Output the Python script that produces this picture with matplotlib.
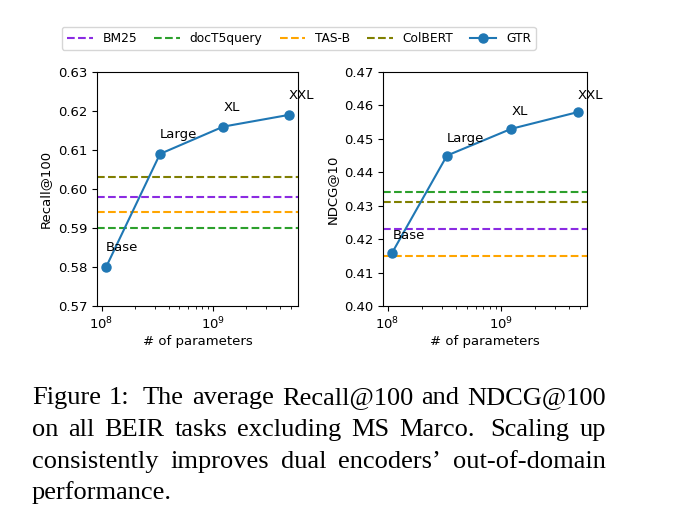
import numpy as np
import matplotlib
matplotlib.use("Agg")
import matplotlib.pyplot as plt

# model sizes (# of parameters) and names
sizes = [110e6, 335e6, 1.24e9, 4.8e9]
names = ["Base", "Large", "XL", "XXL"]

# GTR scores
gtr_recall = [0.580, 0.609, 0.616, 0.619]
gtr_ndcg = [0.416, 0.445, 0.453, 0.458]

# baselines
baselines = ["BM25", "docT5query", "TAS-B", "ColBERT"]
base_recall = [0.598, 0.590, 0.594, 0.603]
base_ndcg = [0.423, 0.434, 0.415, 0.431]
base_colors = ["#8a2be2", "tab:green", "orange", "olive"]

recall_ticks = [0.57, 0.58, 0.59, 0.60, 0.61, 0.62, 0.63]
ndcg_ticks = [0.40, 0.41, 0.42, 0.43, 0.44, 0.45, 0.46, 0.47]

caption = [
    "Figure 1:  The average Recall@100 and NDCG@100",
    "on all BEIR tasks excluding MS Marco.  Scaling up",
    "consistently improves dual encoders\u2019 out-of-domain",
    "performance.",
]

fs = 9.5
fig = plt.figure(figsize=(6.82, 5.23), dpi=100)
W, H = 682, 523
ax1 = fig.add_axes([97 / W, 1 - 306 / H, 201 / W, 234 / H])
ax2 = fig.add_axes([383 / W, 1 - 306 / H, 204 / W, 234 / H])


def panel(ax, gtr, base, ticks, ylabel):
    for name, val, col in zip(baselines, base, base_colors):
        ax.axhline(val, color=col, linestyle="--", linewidth=1.5, label=name)
    ax.plot(sizes, gtr, marker="o", color="tab:blue", linewidth=1.5,
            markersize=6.5, label="GTR")
    for x, y, n in zip(sizes, gtr, names):
        ax.text(x, y + 0.004, n, fontsize=fs, ha="left", va="baseline")
    ax.set_xscale("log")
    ax.set_ylim(ticks[0], ticks[-1])
    ax.set_yticks(ticks)
    ax.set_yticklabels(["%.2f" % t for t in ticks])
    ax.tick_params(labelsize=fs)
    ax.set_xlabel("# of parameters", fontsize=fs, labelpad=2)
    ax.set_ylabel(ylabel, fontsize=fs)


panel(ax1, gtr_recall, base_recall, recall_ticks, "Recall@100")
panel(ax2, gtr_ndcg, base_ndcg, ndcg_ticks, "NDCG@10")

handles, labels = ax1.get_legend_handles_labels()
fig.legend(handles, labels, loc="upper left", bbox_to_anchor=(62 / W, 1 - 27 / H),
           ncol=5, fontsize=8.8, frameon=True, borderaxespad=0,
           handlelength=2.1, columnspacing=1.4)

# justified caption in serif font
fig.canvas.draw()
renderer = fig.canvas.get_renderer()
cap_font = dict(fontsize=19, family="Liberation Serif", va="baseline", ha="left")
x_left, x_right = 32, 606
baselines_y = [404, 436, 468, 499]
for i, (line, yb) in enumerate(zip(caption, baselines_y)):
    words = line.split()
    yf = 1 - yb / H
    if i == len(caption) - 1:
        fig.text(x_left / W, yf, line, **cap_font)
        continue
    objs = [fig.text(0, yf, w, **cap_font) for w in words]
    widths = [o.get_window_extent(renderer).width for o in objs]
    # wider gap after sentence ends / "1:"
    extra = [1.6 if w.endswith((".", ":")) else 1.0 for w in words[:-1]]
    unit = (x_right - x_left - sum(widths)) / sum(extra)
    x = x_left
    for j, (o, w) in enumerate(zip(objs, widths)):
        o.set_x(x / W)
        if j < len(extra):
            x += w + unit * extra[j]

fig.savefig("out.png", dpi=100)
